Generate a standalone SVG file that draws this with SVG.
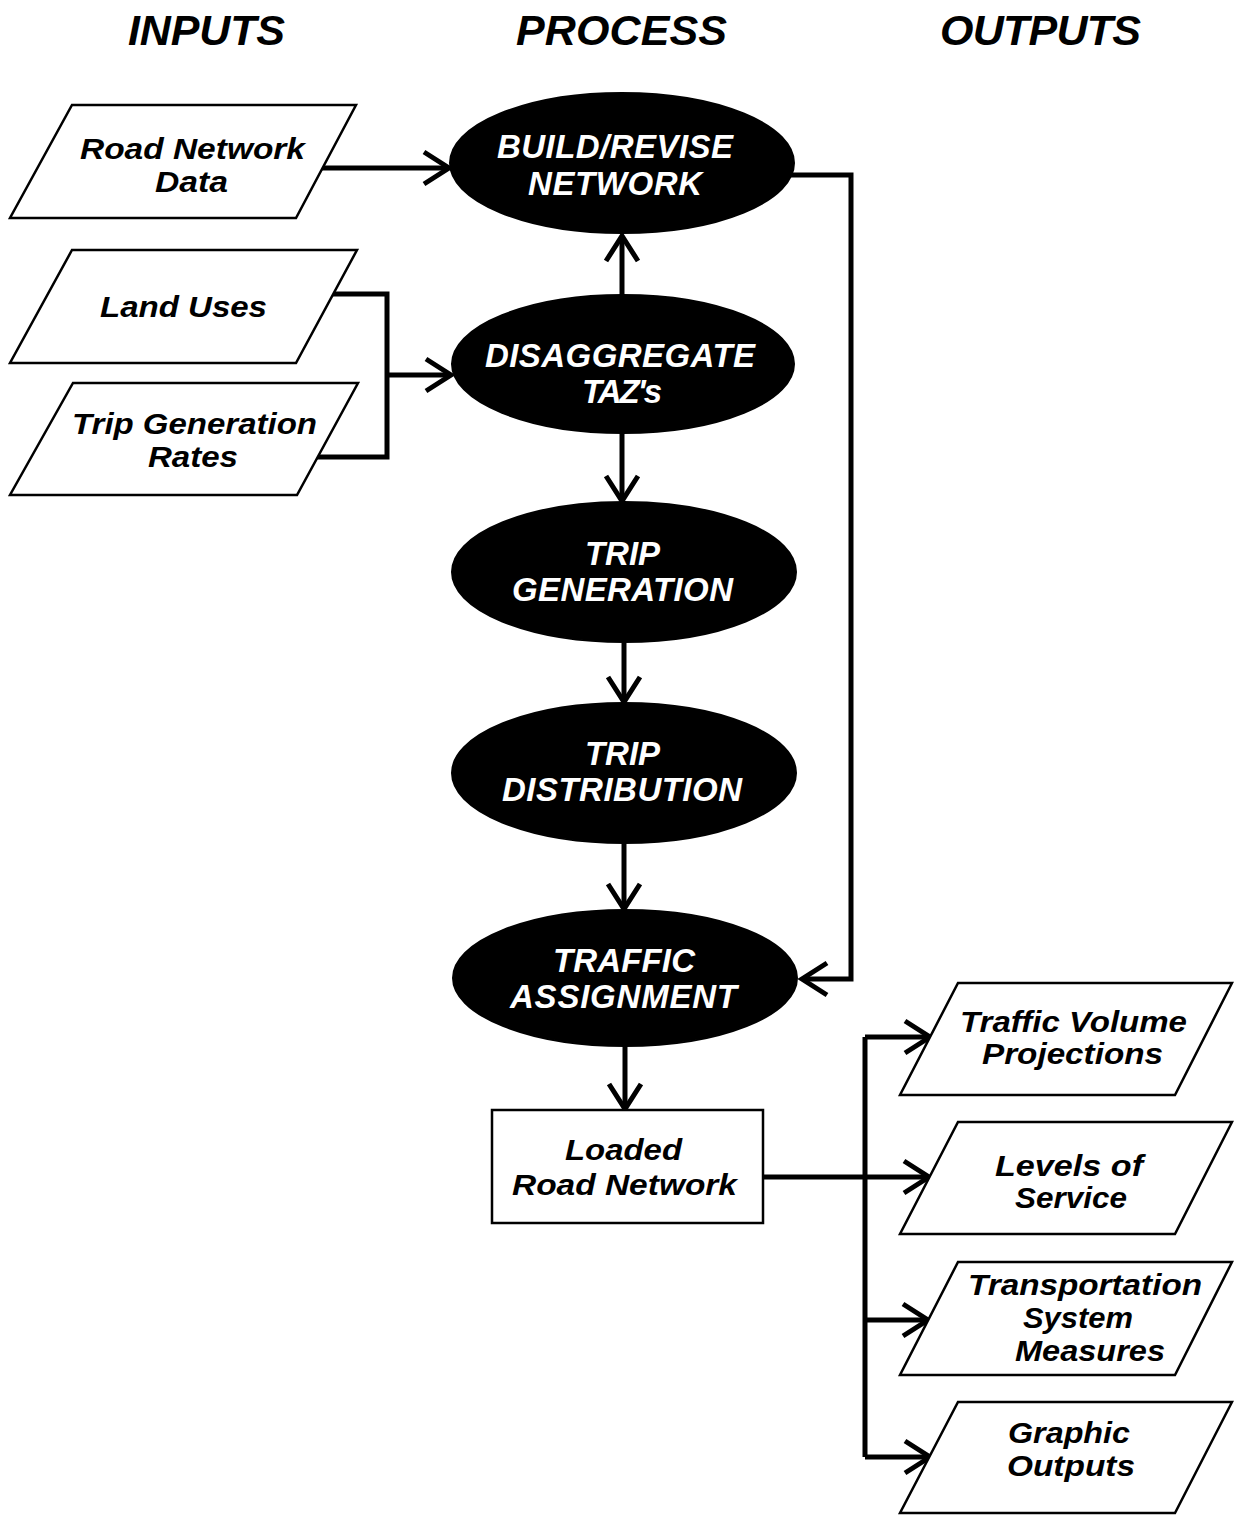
<svg xmlns="http://www.w3.org/2000/svg" width="1234" height="1515" viewBox="0 0 1234 1515">
<style>
.hdr{font-family:"Liberation Sans",Arial,sans-serif;font-weight:bold;font-style:italic;font-size:43px;fill:#000}
.t{font-family:"Liberation Sans",Arial,sans-serif;font-weight:bold;font-style:italic;font-size:29px;fill:#000}
.w{font-family:"Liberation Sans",Arial,sans-serif;font-weight:bold;font-style:italic;font-size:33px;fill:#fff}
.pg{fill:#fff;stroke:#000;stroke-width:2.5}
.el{fill:#000;stroke:#000;stroke-width:2}
.ln{fill:none;stroke:#000;stroke-width:5}
.ar{fill:none;stroke:#000;stroke-width:5;marker-end:url(#arr)}
</style>
<defs>
<marker id="arr" markerUnits="userSpaceOnUse" markerWidth="40" markerHeight="40" viewBox="-30 -20 40 40" refX="0" refY="0" orient="auto" overflow="visible">
<path d="M-25,-16 L0,0 L-25,16" fill="none" stroke="#000" stroke-width="5"/>
</marker>
</defs>
<rect width="1234" height="1515" fill="#fff"/>
<g id="headers">
<text class="hdr" x="128" y="45" textLength="157">INPUTS</text>
<text class="hdr" x="516" y="45" textLength="211">PROCESS</text>
<text class="hdr" x="940" y="45" textLength="201">OUTPUTS</text>
</g>
<g id="connectors">
<path class="ar" d="M322,168 H449"/>
<path class="ar" d="M622,295 V236"/>
<path class="ln" d="M333,294 H387 V457 H317"/>
<path class="ar" d="M387,375 H451"/>
<path class="ar" d="M622,433 V501"/>
<path class="ar" d="M624,643 V702"/>
<path class="ar" d="M624,843 V909"/>
<path class="ar" d="M790,175 H851 V979 H802"/>
<path class="ar" d="M625,1046 V1109"/>
<path class="ar" d="M763,1177 H929"/>
<path class="ln" d="M865,1037 V1457"/>
<path class="ar" d="M865,1037 H930"/>
<path class="ar" d="M865,1320 H928"/>
<path class="ar" d="M865,1457 H930"/>
</g>
<g id="road-network-data">
<polygon class="pg" points="72,105 356,105 296,218 10,218"/>
<text class="t" x="80" y="159" textLength="225" lengthAdjust="spacingAndGlyphs">Road Network</text>
<text class="t" x="155" y="192" textLength="73" lengthAdjust="spacingAndGlyphs">Data</text>
</g>
<g id="land-uses">
<polygon class="pg" points="72,250 357,250 296,363 10,363"/>
<text class="t" x="100" y="317" textLength="167" lengthAdjust="spacingAndGlyphs">Land Uses</text>
</g>
<g id="trip-generation-rates">
<polygon class="pg" points="73,383 358,383 297,495 10,495"/>
<text class="t" x="72" y="434" textLength="245" lengthAdjust="spacingAndGlyphs">Trip Generation</text>
<text class="t" x="148" y="467" textLength="90" lengthAdjust="spacingAndGlyphs">Rates</text>
</g>
<g id="build-revise-network">
<ellipse class="el" cx="622" cy="163" rx="172" ry="70"/>
<text class="w" x="497" y="158" textLength="236">BUILD/REVISE</text>
<text class="w" x="528" y="195" textLength="174">NETWORK</text>
</g>
<g id="disaggregate-tazs">
<ellipse class="el" cx="623" cy="364" rx="171" ry="69"/>
<text class="w" x="485" y="367" textLength="270">DISAGGREGATE</text>
<text class="w" x="582" y="403" textLength="80">TAZ's</text>
</g>
<g id="trip-generation">
<ellipse class="el" cx="624" cy="572" rx="172" ry="70"/>
<text class="w" x="585" y="565" textLength="75">TRIP</text>
<text class="w" x="512" y="601" textLength="221">GENERATION</text>
</g>
<g id="trip-distribution">
<ellipse class="el" cx="624" cy="773" rx="172" ry="70"/>
<text class="w" x="585" y="765" textLength="75">TRIP</text>
<text class="w" x="502" y="801" textLength="240">DISTRIBUTION</text>
</g>
<g id="traffic-assignment">
<ellipse class="el" cx="625" cy="978" rx="172" ry="68"/>
<text class="w" x="553" y="972" textLength="142">TRAFFIC</text>
<text class="w" x="510" y="1008" textLength="227">ASSIGNMENT</text>
</g>
<g id="loaded-road-network">
<rect class="pg" x="492" y="1110" width="271" height="113"/>
<text class="t" x="565" y="1160" textLength="117" lengthAdjust="spacingAndGlyphs">Loaded</text>
<text class="t" x="512" y="1195" textLength="225" lengthAdjust="spacingAndGlyphs">Road Network</text>
</g>
<g id="traffic-volume-projections">
<polygon class="pg" points="958,983 1232,983 1175,1095 900,1095"/>
<text class="t" x="960" y="1032" textLength="227" lengthAdjust="spacingAndGlyphs">Traffic Volume</text>
<text class="t" x="982" y="1064" textLength="181" lengthAdjust="spacingAndGlyphs">Projections</text>
</g>
<g id="levels-of-service">
<polygon class="pg" points="958,1122 1232,1122 1175,1234 900,1234"/>
<text class="t" x="995" y="1176" textLength="148" lengthAdjust="spacingAndGlyphs">Levels of</text>
<text class="t" x="1015" y="1208" textLength="112" lengthAdjust="spacingAndGlyphs">Service</text>
</g>
<g id="transportation-system-measures">
<polygon class="pg" points="958,1262 1232,1262 1175,1375 900,1375"/>
<text class="t" x="968" y="1295" textLength="234" lengthAdjust="spacingAndGlyphs">Transportation</text>
<text class="t" x="1023" y="1328" textLength="110" lengthAdjust="spacingAndGlyphs">System</text>
<text class="t" x="1015" y="1361" textLength="150" lengthAdjust="spacingAndGlyphs">Measures</text>
</g>
<g id="graphic-outputs">
<polygon class="pg" points="958,1402 1232,1402 1175,1513 900,1513"/>
<text class="t" x="1008" y="1443" textLength="122" lengthAdjust="spacingAndGlyphs">Graphic</text>
<text class="t" x="1007" y="1476" textLength="128" lengthAdjust="spacingAndGlyphs">Outputs</text>
</g>
</svg>
